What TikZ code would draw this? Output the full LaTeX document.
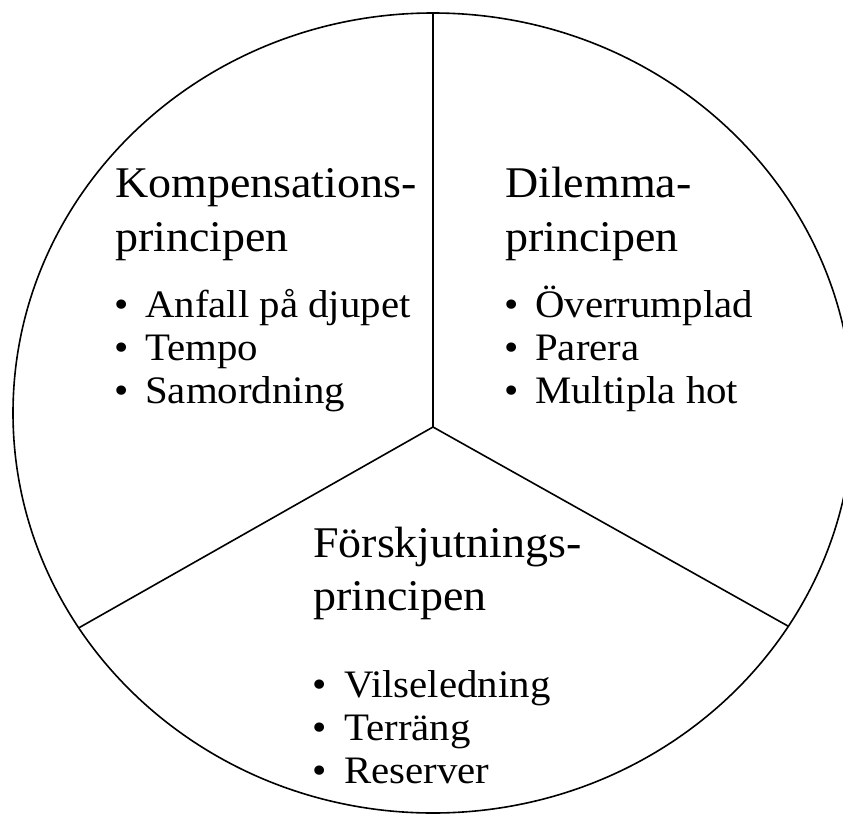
\documentclass[tikz,border=0pt]{standalone}
\usepackage{fontspec}
\setmainfont{Liberation Serif}[FakeStretch=1.05]
\begin{document}
\begin{tikzpicture}[x=1pt,y=-1pt,
  head/.style={anchor=base west, inner sep=0pt, font=\fontsize{43.8}{52}\selectfont},
  item/.style={anchor=base west, inner sep=0pt, font=\fontsize{38.9}{46}\selectfont},
  dotmark/.style={anchor=base, inner sep=0pt, font=\fontsize{38.9}{46}\selectfont},
  rim/.style={line width=1.6pt}]
\useasboundingbox (0,0) rectangle (843,814);
\begin{scope}
\clip (0,0) rectangle (843,814);
\coordinate (hub) at (433,427);
\coordinate (up) at (433,0);
\coordinate (lft) at (8,668);
\coordinate (rgt) at (861,667);
\begin{scope}
\clip (433,413) ellipse [x radius=420, y radius=400];
\draw[rim] (hub) -- (up);
\draw[rim] (hub) -- (lft);
\draw[rim] (hub) -- (rgt);
\end{scope}
\draw[rim] (433,413) ellipse [x radius=420, y radius=400];
\end{scope}
% left sector
\node[head] (k1) at (115,197) {Kompensations-};
\node[head] (k2) at (115,251) {principen};
\node[dotmark] (kd1) at (122,317) {•};
\node[item] (ka) at (145,317) {Anfall på djupet};
\node[dotmark] (kd2) at (122,360) {•};
\node[item] (kb) at (145,360) {Tempo};
\node[dotmark] (kd3) at (122,403) {•};
\node[item] (kc) at (145,403) {Samordning};
% right sector
\node[head] (d1) at (505,197) {Dilemma-};
\node[head] (d2) at (505,251) {principen};
\node[dotmark] (dd1) at (512,317) {•};
\node[item] (da) at (535,317) {Överrumplad};
\node[dotmark] (dd2) at (512,360) {•};
\node[item] (db) at (535,360) {Parera};
\node[dotmark] (dd3) at (512,403) {•};
\node[item] (dc) at (535,403) {Multipla hot};
% bottom sector
\node[head] (f1) at (313,557) {Förskjutnings-};
\node[head] (f2) at (313,610) {principen};
\node[dotmark] (fd1) at (320,697) {•};
\node[item] (fa) at (344,697) {Vilseledning};
\node[dotmark] (fd2) at (320,740) {•};
\node[item] (fb) at (344,740) {Terräng};
\node[dotmark] (fd3) at (320,783) {•};
\node[item] (fc) at (344,783) {Reserver};
\end{tikzpicture}
\end{document}
